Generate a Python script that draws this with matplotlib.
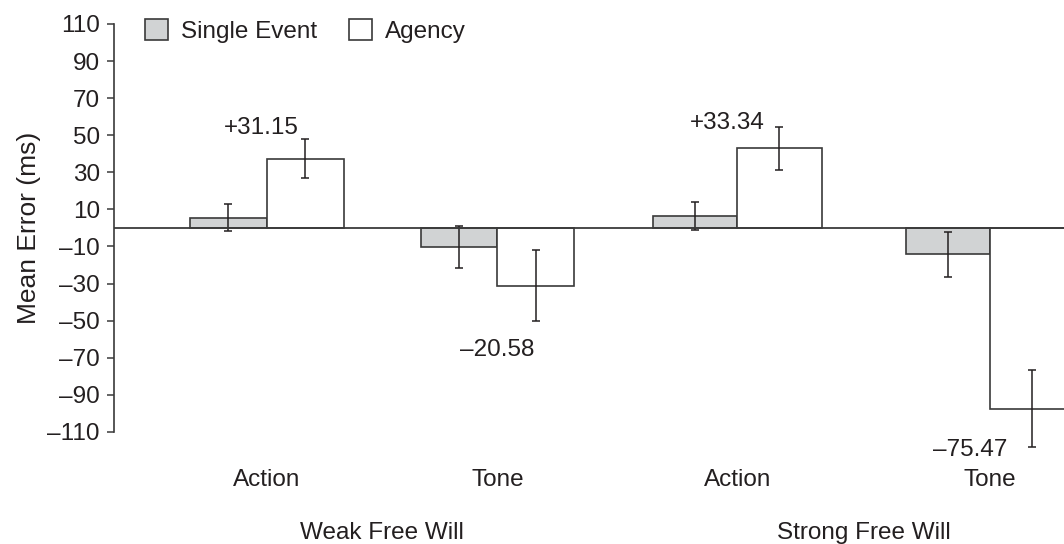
import matplotlib.pyplot as plt
from matplotlib.patches import Patch
from matplotlib.transforms import blended_transform_factory

plt.rcParams['font.family'] = ['Liberation Sans', 'DejaVu Sans']

# data
conditions = ['Action', 'Tone', 'Action', 'Tone']
groups = ['Weak Free Will', 'Strong Free Will']
single_event = [5.5, -10.5, 6.4, -14.3]
single_err = [7.2, 11.3, 7.5, 12.0]
agency = [37.4, -31.1, 43.0, -97.4]
agency_err = [10.7, 19.2, 11.5, 20.8]
diff_labels = ['+31.15', '\u201320.58', '+33.34', '\u201375.47']
y_ticks = list(range(-110, 111, 20))

# layout
pos = [0, 0.96, 1.96, 3.01]
widths = [0.32, 0.32, 0.35, 0.35]
ink = '#231f20'
edge = '#3a3a3a'
gray = '#d1d3d4'
fs = 17.5

fig = plt.figure(figsize=(10.64, 5.44), dpi=100)
ax = fig.add_axes([0.107, 0.206, 0.893, 0.75])

for i in range(len(pos)):
    w = widths[i]
    ax.bar(pos[i] - w / 2, single_event[i], w, color=gray, edgecolor=edge, linewidth=1.2, zorder=2)
    ax.bar(pos[i] + w / 2, agency[i], w, color='white', edgecolor=edge, linewidth=1.2, zorder=2)
    for xx, yy, ee in [(pos[i] - w / 2, single_event[i], single_err[i]),
                       (pos[i] + w / 2, agency[i], agency_err[i])]:
        eb = ax.errorbar(xx, yy, yerr=ee, fmt='none', ecolor=ink, elinewidth=1.1,
                         capsize=3, capthick=1.1, zorder=3)
        for art in eb.lines[1] + eb.lines[2]:
            art.set_clip_on(False)

ax.axhline(0, color=edge, linewidth=1.3, zorder=4)

# difference labels
offsets = [(-4, 0), (0, -12.5), (-7.5, -5), (-14, 6)]
for i in range(len(pos)):
    if agency[i] > 0:
        y = agency[i] + agency_err[i]
        va = 'bottom'
    else:
        y = agency[i] - agency_err[i]
        va = 'top'
    ax.annotate(diff_labels[i], xy=(pos[i], y), xytext=offsets[i], textcoords='offset points',
                ha='center', va=va, fontsize=fs, color=ink, annotation_clip=False)

ax.set_xlim(-0.6375, 3.32)
ax.set_ylim(-110, 110)
ax.set_yticks(y_ticks)
ax.set_yticklabels([str(t).replace('-', '\u2013') for t in y_ticks])
ax.tick_params(axis='y', direction='out', length=5, width=1.1, colors=edge, labelcolor=ink,
               labelsize=fs, pad=5)
ax.set_xticks(pos)
ax.set_xticklabels(conditions)
ax.tick_params(axis='x', length=0, labelsize=fs, labelcolor=ink, pad=27)

for s in ['top', 'right', 'bottom']:
    ax.spines[s].set_visible(False)
ax.spines['left'].set_color(edge)
ax.spines['left'].set_linewidth(1.2)

ax.set_ylabel('Mean Error (ms)', fontsize=19, color=ink, labelpad=5)

tr = blended_transform_factory(ax.transData, ax.transAxes)
ax.text((pos[0] + pos[1]) / 2, -0.2475, groups[0], transform=tr, ha='center', va='center',
        fontsize=fs, color=ink)
ax.text((pos[2] + pos[3]) / 2, -0.2475, groups[1], transform=tr, ha='center', va='center',
        fontsize=fs, color=ink)

handles = [Patch(facecolor=gray, edgecolor=edge, linewidth=1.2),
           Patch(facecolor='white', edgecolor=edge, linewidth=1.2)]
fig.legend(handles, ['Single Event', 'Agency'], loc='upper left', bbox_to_anchor=(0.136, 0.965),
           ncol=2, frameon=False, fontsize=fs, handlelength=0.95, handleheight=0.95,
           handletextpad=0.55, columnspacing=1.3, borderpad=0, borderaxespad=0, labelcolor=ink)

fig.savefig('out.png', dpi=100)
